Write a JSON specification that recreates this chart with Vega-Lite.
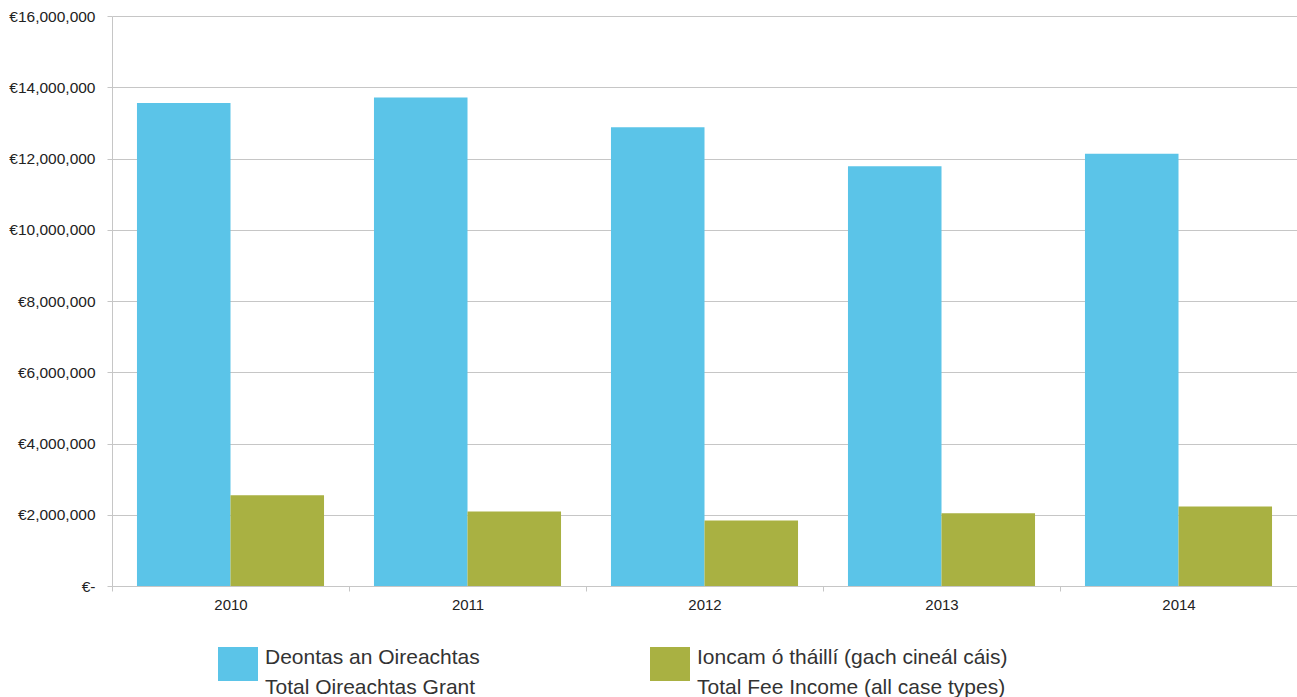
{
  "$schema": "https://vega.github.io/schema/vega-lite/v6.json",
  "width": 1185,
  "height": 570,
  "autosize": {"type": "none"},
  "padding": {"left": 112, "top": 16, "right": 0, "bottom": 111},
  "background": "white",
  "config": {
    "font": "Liberation Sans",
    "view": {"stroke": null}
  },
  "data": {
    "values": [
      {"year": "2010", "series": "Deontas an Oireachtas", "amount": 13560000},
      {"year": "2010", "series": "Ioncam ó tháillí (gach cineál cáis)", "amount": 2550000},
      {"year": "2011", "series": "Deontas an Oireachtas", "amount": 13710000},
      {"year": "2011", "series": "Ioncam ó tháillí (gach cineál cáis)", "amount": 2090000},
      {"year": "2012", "series": "Deontas an Oireachtas", "amount": 12880000},
      {"year": "2012", "series": "Ioncam ó tháillí (gach cineál cáis)", "amount": 1840000},
      {"year": "2013", "series": "Deontas an Oireachtas", "amount": 11780000},
      {"year": "2013", "series": "Ioncam ó tháillí (gach cineál cáis)", "amount": 2040000},
      {"year": "2014", "series": "Deontas an Oireachtas", "amount": 12130000},
      {"year": "2014", "series": "Ioncam ó tháillí (gach cineál cáis)", "amount": 2230000}
    ]
  },
  "mark": {"type": "bar"},
  "encoding": {
    "x": {
      "field": "year",
      "type": "nominal",
      "scale": {"paddingInner": 0, "paddingOuter": 0},
      "axis": {
        "title": null,
        "labelAngle": 0,
        "labelFontSize": 15,
        "labelColor": "#222222",
        "labelPadding": 6,
        "tickBand": "extent",
        "tickSize": 5,
        "tickColor": "#c6c6c6",
        "domainColor": "#c6c6c6",
        "grid": false
      }
    },
    "xOffset": {
      "field": "series",
      "type": "nominal",
      "scale": {"paddingInner": 0, "paddingOuter": 0.267}
    },
    "y": {
      "field": "amount",
      "type": "quantitative",
      "scale": {"domain": [0, 16000000], "nice": false},
      "axis": {
        "title": null,
        "values": [0, 2000000, 4000000, 6000000, 8000000, 10000000, 12000000, 14000000, 16000000],
        "labelExpr": "datum.value == 0 ? '€-' : '€' + format(datum.value, ',')",
        "labelFontSize": 15.5,
        "labelColor": "#222222",
        "labelPadding": 12,
        "tickSize": 5,
        "tickColor": "#c6c6c6",
        "domainColor": "#c6c6c6",
        "gridColor": "#c6c6c6",
        "gridWidth": 1
      }
    },
    "color": {
      "field": "series",
      "type": "nominal",
      "scale": {
        "domain": ["Deontas an Oireachtas", "Ioncam ó tháillí (gach cineál cáis)"],
        "range": ["#5bc4e8", "#a9b142"]
      },
      "legend": {
        "title": null,
        "orient": "none",
        "legendX": 106,
        "legendY": 628,
        "direction": "horizontal",
        "columns": 2,
        "columnPadding": 170,
        "padding": 0,
        "symbolType": "M-1,-0.85H1V0.85H-1Z",
        "symbolSize": 1600,
        "symbolStrokeWidth": 0,
        "symbolOpacity": 1,
        "labelOffset": 7,
        "labelFontSize": 21,
        "labelColor": "#333333",
        "labelBaseline": "alphabetic",
        "labelLimit": 400,
        "labelExpr": "datum.label == 'Deontas an Oireachtas' ? ['Deontas an Oireachtas', 'Total Oireachtas Grant'] : ['Ioncam ó tháillí (gach cineál cáis)', 'Total Fee Income (all case types)']",
        "encode": {
          "labels": {"update": {"lineHeight": {"value": 30}}}
        }
      }
    }
  }
}
